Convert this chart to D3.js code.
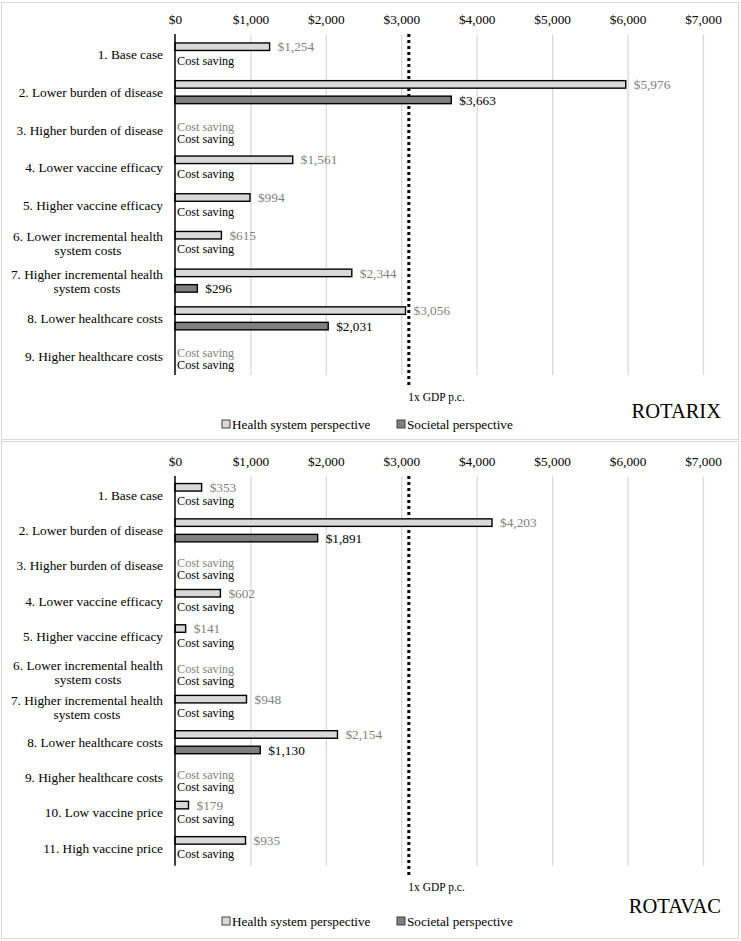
<!DOCTYPE html>
<html>
<head>
<meta charset="utf-8">
<script src="https://cdn.jsdelivr.net/npm/d3@7/dist/d3.min.js"></script>
<style>
  html, body { margin: 0; padding: 0; background: #ffffff; }
  svg { display: block; }
</style>
</head>
<body>
<svg id="chart" width="741" height="941"></svg>
<script>
// ---------------- DATA ----------------
const rotarixCategories = [
  "1. Base case",
  "2. Lower burden of disease",
  "3. Higher burden of disease",
  "4. Lower vaccine efficacy",
  "5. Higher vaccine efficacy",
  "6. Lower incremental health|system costs",
  "7. Higher incremental health|system costs",
  "8. Lower healthcare costs",
  "9. Higher healthcare costs"
];
const rotarixHealthSystem = [1254, 5976, null, 1561, 994, 615, 2344, 3056, null];
const rotarixSocietal     = [null, 3663, null, null, null, null, 296, 2031, null];

const rotavacCategories = [
  "1. Base case",
  "2. Lower burden of disease",
  "3. Higher burden of disease",
  "4. Lower vaccine efficacy",
  "5. Higher vaccine efficacy",
  "6. Lower incremental health|system costs",
  "7. Higher incremental health|system costs",
  "8. Lower healthcare costs",
  "9. Higher healthcare costs",
  "10. Low vaccine price",
  "11. High vaccine price"
];
const rotavacHealthSystem = [353, 4203, null, 602, 141, null, 948, 2154, null, 179, 935];
const rotavacSocietal     = [null, 1891, null, null, null, null, null, 1130, null, null, null];

const xTicks = [0, 1000, 2000, 3000, 4000, 5000, 6000, 7000];
const gdpPerCapita = 3100;
const gdpLabel = "1x GDP p.c.";
const seriesNames = ["Health system perspective", "Societal perspective"];
const costSavingText = "Cost saving";

// ---------------- FONT PICK ----------------
function pickFont(cands) {
  const c = document.createElement("canvas").getContext("2d");
  const s = "Lower burden of disease $1,000 WMwil";
  for (const f of cands) {
    let differs = false;
    for (const base of ["monospace", "sans-serif"]) {
      c.font = `20px ${base}`;
      const w0 = c.measureText(s).width;
      c.font = `20px "${f}", ${base}`;
      if (Math.abs(c.measureText(s).width - w0) > 0.5) differs = true;
      else { differs = false; break; }
    }
    if (differs) return `"${f}"`;
  }
  return "serif";
}
const SERIF = pickFont(["Liberation Serif", "Times New Roman", "Tinos", "DejaVu Serif", "Noto Serif"]) + ", serif";

// ---------------- LAYOUT ----------------
const svg = d3.select("#chart").style("font-family", SERIF);
const FONT = 13.3;
const HS_FILL = "#d9d9d9", SOC_FILL = "#808080", HS_TEXT = "#7f7f7f";
const x = d3.scaleLinear().domain([0, 7000]).range([175, 703]);
const fmt = d3.format("$,.0f");

const panels = [
  { title: "ROTARIX", cats: rotarixCategories, hs: rotarixHealthSystem, soc: rotarixSocietal,
    boxTop: 2, boxBottom: 439, tickY: 19, plotTop: 35.6, plotBottom: 374.9,
    dotEnd: 385, gdpY: 397, titleY: 411, legendY: 424 },
  { title: "ROTAVAC", cats: rotavacCategories, hs: rotavacHealthSystem, soc: rotavacSocietal,
    boxTop: 441, boxBottom: 938, tickY: 461, plotTop: 477.4, plotBottom: 865.8,
    dotEnd: 878, gdpY: 887, titleY: 906, legendY: 921 }
];

function txt(g) {
  return g.append("text").attr("font-family", SERIF);
}

panels.forEach(p => {
  const g = svg.append("g");
  g.append("rect")
    .attr("x", 1.5).attr("y", p.boxTop + 0.5)
    .attr("width", 737).attr("height", p.boxBottom - p.boxTop)
    .attr("fill", "none").attr("stroke", "#d9d9d9").attr("stroke-width", 1);

  const y = d3.scaleBand().domain(d3.range(p.cats.length))
    .range([p.plotTop, p.plotBottom]).paddingInner(0).paddingOuter(0);
  const inner = d3.scaleBand().domain(["hs", "soc"])
    .range([-11.5, 11.5]).paddingInner(0.516).paddingOuter(0);

  const grid = g.append("g").attr("transform", `translate(0,${p.plotTop - 1})`)
    .call(d3.axisBottom(x).tickValues(xTicks.slice(1)).tickSize(p.plotBottom - p.plotTop + 1).tickFormat(""));
  grid.select(".domain").remove();
  grid.selectAll(".tick line").attr("stroke", "#d9d9d9").attr("stroke-width", 1.3);

  const ax = g.append("g").attr("transform", `translate(0,${p.tickY})`)
    .call(d3.axisTop(x).tickValues(xTicks).tickSize(0).tickPadding(0).tickFormat(fmt));
  ax.attr("font-family", SERIF);
  ax.select(".domain").remove();
  ax.selectAll("text").attr("font-size", FONT).attr("font-family", SERIF)
    .attr("fill", "#000").attr("dy", "0.35em");

  g.append("line")
    .attr("x1", x(gdpPerCapita)).attr("x2", x(gdpPerCapita))
    .attr("y1", p.plotTop - 1.5).attr("y2", p.dotEnd)
    .attr("stroke", "#000").attr("stroke-width", 3).attr("stroke-dasharray", "3,3");
  txt(g).attr("x", x(gdpPerCapita) - 0.5).attr("y", p.gdpY)
    .attr("dy", "0.35em").attr("font-size", 11.5).attr("fill", "#000").text(gdpLabel);

  const rows = p.cats.map((c, i) => ({ i, cat: c, hs: p.hs[i], soc: p.soc[i] }));
  rows.forEach(r => {
    const cy = y(r.i) + y.bandwidth() / 2;
    [["hs", r.hs, HS_FILL, HS_TEXT], ["soc", r.soc, SOC_FILL, "#000"]].forEach(([k, v, fill, tcol]) => {
      if (v == null) return;
      g.append("rect")
        .attr("x", x(0)).attr("y", cy + inner(k))
        .attr("width", x(v) - x(0)).attr("height", inner.bandwidth())
        .attr("fill", fill).attr("stroke", "#000").attr("stroke-width", 1.4);
      txt(g)
        .attr("x", x(v) + 8).attr("y", cy + inner(k) + inner.bandwidth() / 2)
        .attr("dy", "0.35em").attr("font-size", FONT).attr("fill", tcol).text(fmt(v));
    });
    if (r.hs == null && r.soc == null) {
      txt(g).attr("x", x(0) + 2).attr("y", cy - 3).attr("dy", "0.35em")
        .attr("font-size", 12.2).attr("fill", HS_TEXT).text(costSavingText);
      txt(g).attr("x", x(0) + 2).attr("y", cy + 9).attr("dy", "0.35em")
        .attr("font-size", 12.2).attr("fill", "#000").text(costSavingText);
    } else if (r.soc == null) {
      txt(g).attr("x", x(0) + 2).attr("y", cy + 6).attr("dy", "0.35em")
        .attr("font-size", 12.2).attr("fill", "#000").text(costSavingText);
    }
    const lines = r.cat.split("|");
    const t = txt(g).attr("font-size", FONT).attr("fill", "#000");
    if (lines.length === 1) {
      t.attr("x", 163).attr("y", cy).attr("dy", "0.35em").attr("text-anchor", "end").text(lines[0]);
    } else {
      lines.forEach((ln, j) => {
        t.append("tspan").attr("y", cy + (j === 0 ? -6.5 : 7.8)).attr("dy", "0.35em").text(ln);
      });
      t.attr("text-anchor", "middle");
      const w = d3.max(t.selectAll("tspan").nodes(), n => n.getComputedTextLength());
      t.selectAll("tspan").attr("x", 163 - w / 2);
    }
  });

  g.append("line").attr("x1", x(0)).attr("x2", x(0))
    .attr("y1", p.plotTop - 1.5).attr("y2", p.plotBottom)
    .attr("stroke", "#000").attr("stroke-width", 1.5);

  txt(g).attr("x", 721).attr("y", p.titleY).attr("dy", "0.35em")
    .attr("text-anchor", "end").attr("font-size", 20.5).attr("fill", "#000").text(p.title);

  const legendItems = [
    { name: seriesNames[0], fill: HS_FILL, x: 222 },
    { name: seriesNames[1], fill: SOC_FILL, x: 397 }
  ];
  legendItems.forEach(li => {
    g.append("rect").attr("x", li.x).attr("y", p.legendY - 4).attr("width", 8).attr("height", 8)
      .attr("fill", li.fill).attr("stroke", "#404040").attr("stroke-width", 1);
    txt(g).attr("x", li.x + 10).attr("y", p.legendY).attr("dy", "0.35em")
      .attr("font-size", 13.2).attr("fill", "#000").text(li.name);
  });
});
</script>
</body>
</html>
